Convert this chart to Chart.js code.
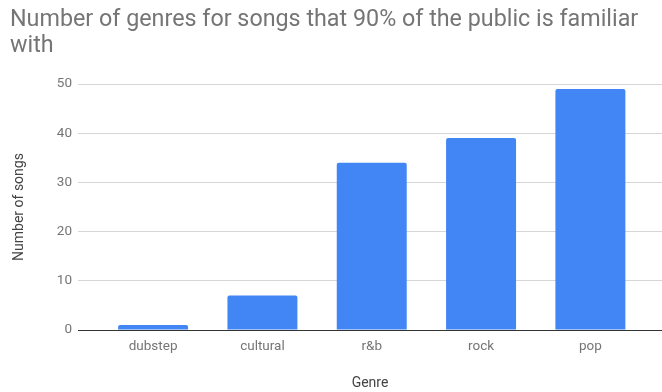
<!DOCTYPE html>
<html>
<head>
<meta charset="utf-8">
<script src="https://cdn.jsdelivr.net/npm/chart.js@4/dist/chart.umd.min.js"></script>
<style>
  html, body { margin: 0; padding: 0; background: #fff; }
  #wrap { width: 662px; height: 392px; }
</style>
</head>
<body>
<div id="wrap"><canvas id="genreChart"></canvas></div>
<script>
const genres = ['dubstep', 'cultural', 'r&b', 'rock', 'pop'];
const songCounts = [1, 7, 34, 39, 49];
const yTicks = [0, 10, 20, 30, 40, 50];

const titleLines = ['Number of genres for songs that 90% of the public is familiar', 'with'];
const barColor = '#4285f4';

// extra room either side of the category band, in category units
const bandPadLeft = 0.187;
const bandPadRight = 0.155;

new Chart(document.getElementById('genreChart'), {
    type: 'bar',
    data: {
        labels: genres,
        datasets: [{
            data: songCounts,
            backgroundColor: barColor,
            borderRadius: 2,
            borderSkipped: 'start',
            categoryPercentage: 1,
            barPercentage: 0.64,
        }],
    },
    options: {
        responsive: true,
        maintainAspectRatio: false,
        animation: false,
        layout: { padding: { left: 10, right: 0, top: 0, bottom: 0 } },
        plugins: {
            legend: { display: false },
            tooltip: { enabled: false },
            title: {
                display: true,
                text: titleLines,
                align: 'start',
                color: '#757575',
                font: { family: 'Roboto', size: 23.3, weight: 'normal', lineHeight: 1.116 },
                padding: { top: 7, bottom: 25 },
            },
        },
        scales: {
            x: {
                offset: true,
                grid: { display: false, drawTicks: false },
                border: { display: false },
                ticks: {
                    color: '#757575',
                    padding: 9,
                    font: { family: 'Roboto', size: 13.5 },
                },
                title: {
                    display: true,
                    text: 'Genre',
                    color: '#444',
                    font: { family: 'Roboto', size: 14 },
                    padding: { top: 0, bottom: 0 },
                },
                afterBuildTicks(scale) {
                    scale._startValue -= bandPadLeft;
                    scale._valueRange += bandPadLeft + bandPadRight;
                },
                afterFit(scale) {
                    scale.height = 62;
                },
            },
            y: {
                min: 0,
                max: 50,
                afterBuildTicks(scale) {
                    scale.ticks = yTicks.map((v) => ({ value: v }));
                },
                grid: {
                    drawTicks: false,
                    color: (ctx) => (ctx.tick && ctx.tick.value === 0 ? '#333' : '#d6d6d6'),
                    lineWidth: 1,
                },
                border: { display: false },
                ticks: {
                    color: '#757575',
                    padding: 6,
                    font: { family: 'Roboto', size: 13.5 },
                },
                title: {
                    display: true,
                    text: 'Number of songs',
                    color: '#444',
                    font: { family: 'Roboto', size: 14 },
                    padding: { top: 1.5, bottom: 0 },
                },
                afterFit(scale) {
                    scale.width = 68;
                },
            },
        },
    },
});
</script>
</body>
</html>
